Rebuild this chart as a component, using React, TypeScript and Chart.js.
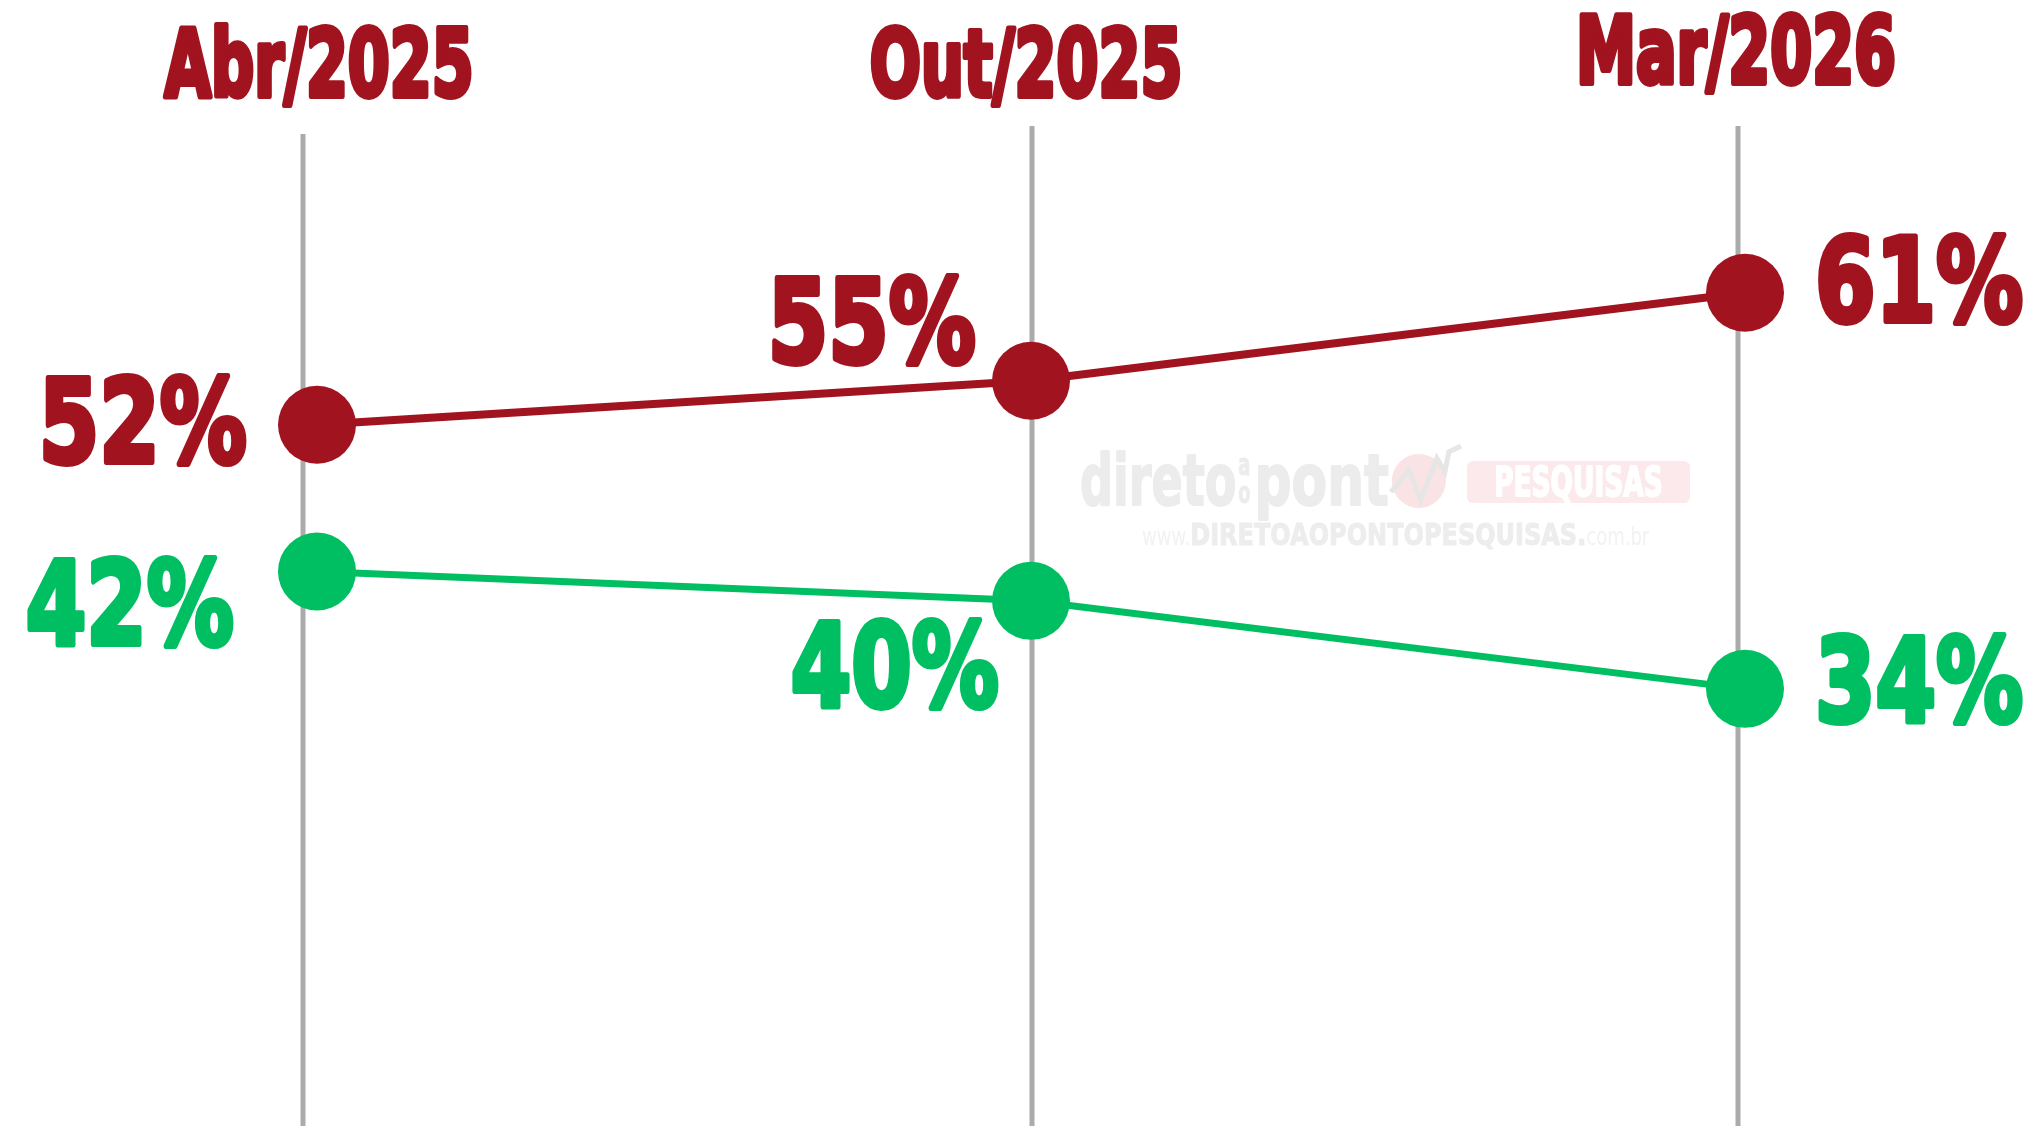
import React, { useEffect, useRef } from "react";
import { Chart, registerables } from "chart.js";

Chart.register(...registerables);

// ---- data ----
const categories = ["Abr/2025", "Out/2025", "Mar/2026"];
const seriesRedName = "Série vermelha";
const seriesRed = [52, 55, 61];
const seriesGreenName = "Série verde";
const seriesGreen = [42, 40, 34];

// ---- styles ----
const RED = "#A1131F";
const GREEN = "#00BF62";
const GRID = "#ABABAB";
const FONT = '"DejaVu Sans", sans-serif';

function drawCondensed(
  ctx: CanvasRenderingContext2D,
  text: string,
  x: number,
  y: number,
  size: number,
  sx: number,
  align: "left" | "right" | "center",
  color: string,
  stroke = 3,
  weight = "bold"
) {
  ctx.save();
  ctx.font = `${weight} ${size}px ${FONT}`;
  const w = ctx.measureText(text).width * sx;
  const left = align === "left" ? x : align === "right" ? x - w : x - w / 2;
  ctx.translate(left, y);
  ctx.scale(sx, 1);
  ctx.textAlign = "left";
  ctx.textBaseline = "alphabetic";
  ctx.fillStyle = color;
  ctx.fillText(text, 0, 0);
  if (stroke > 0) {
    ctx.strokeStyle = color;
    ctx.lineWidth = stroke;
    ctx.lineJoin = "round";
    ctx.strokeText(text, 0, 0);
  }
  ctx.restore();
  return w;
}

const guidePlugin = {
  id: "guides",
  beforeDatasetsDraw(chart: any, _a: any, opts: any) {
    const ctx: CanvasRenderingContext2D = chart.ctx;
    const xs = chart.scales.x;
    const area = chart.chartArea;
    ctx.save();
    ctx.strokeStyle = GRID;
    ctx.lineWidth = 5;
    categories.forEach((_c, i) => {
      const px = xs.getPixelForValue(i) + opts.shift[i];
      ctx.beginPath();
      ctx.moveTo(px, area.top + opts.topGap[i]);
      ctx.lineTo(px, area.bottom);
      ctx.stroke();
    });
    ctx.restore();
  },
};

const watermarkPlugin = {
  id: "watermark",
  beforeDatasetsDraw(chart: any) {
    const ctx: CanvasRenderingContext2D = chart.ctx;
    const gray = "#ECECEC";
    ctx.save();
    let x = 1080;
    const base = 505;
    x += drawCondensed(ctx, "direto", x, base, 72, 0.64, "left", gray, 2);
    drawCondensed(ctx, "a", x + 8, base - 30, 30, 0.6, "center", gray, 1);
    drawCondensed(ctx, "o", x + 8, base - 2, 30, 0.6, "center", gray, 1);
    x += 18;
    x += drawCondensed(ctx, "pont", x, base, 72, 0.72, "left", gray, 2);
    // icon
    ctx.fillStyle = "#F9E3E4";
    ctx.beginPath();
    ctx.arc(x + 30, 481, 27, 0, Math.PI * 2);
    ctx.fill();
    ctx.strokeStyle = "#E6E6E6";
    ctx.lineWidth = 5;
    ctx.beginPath();
    ctx.moveTo(x + 2, 492);
    ctx.lineTo(x + 20, 470);
    ctx.lineTo(x + 32, 500);
    ctx.lineTo(x + 48, 458);
    ctx.lineTo(x + 56, 472);
    ctx.lineTo(x + 60, 452);
    ctx.lineTo(x + 72, 446);
    ctx.stroke();
    // box
    const bx = 1467, by = 461, bw = 223, bh = 42;
    ctx.fillStyle = "#FBE9EB";
    ctx.beginPath();
    (ctx as any).roundRect(bx, by, bw, bh, 6);
    ctx.fill();
    drawCondensed(ctx, "PESQUISAS", bx + bw / 2, by + 35, 40, 0.66, "center", "#FFFFFF", 2);
    // url
    let ux = 1142;
    ux += drawCondensed(ctx, "www.", ux, 545, 24, 0.75, "left", "#F2F2F2", 0, "normal");
    ux += drawCondensed(ctx, "DIRETOAOPONTOPESQUISAS.", ux, 545, 30, 0.8, "left", "#EDEDED", 1);
    drawCondensed(ctx, "com.br", ux, 545, 24, 0.75, "left", "#F2F2F2", 0, "normal");
    ctx.restore();
  },
};

const labelPlugin = {
  id: "pctLabels",
  afterDatasetsDraw(chart: any, _args: any, opts: any) {
    const ctx: CanvasRenderingContext2D = chart.ctx;
    const xs = chart.scales.x;
    const area = chart.chartArea;
    // category labels at the top
    categories.forEach((c, i) => {
      const px = xs.getPixelForValue(i);
      drawCondensed(ctx, c, px + opts.topShift[i], area.top - opts.topLift[i], 92, 0.655, "center", RED, 6);
    });
    // value labels
    chart.data.datasets.forEach((ds: any, di: number) => {
      const meta = chart.getDatasetMeta(di);
      meta.data.forEach((pt: any, i: number) => {
        const [dx, dy, align] = ds.labelPos[i];
        drawCondensed(ctx, `${ds.data[i]}%`, pt.x + dx, pt.y + dy, 116, 0.75, align, ds.borderColor, 6);
      });
    });
  },
};

export default function App() {
  const ref = useRef<HTMLCanvasElement | null>(null);

  useEffect(() => {
    if (!ref.current) return;
    const chart = new Chart(ref.current, {
      type: "line",
      data: {
        labels: categories,
        datasets: [
          {
            label: seriesRedName,
            data: seriesRed,
            borderColor: RED,
            backgroundColor: RED,
            pointBackgroundColor: RED,
            pointBorderWidth: 0,
            pointRadius: 39,
            pointHoverRadius: 39,
            borderWidth: 8,
            tension: 0,
            clip: false,
            labelPos: [
              [-70, 37, "right"],
              [-55, -19, "right"],
              [70, 28, "left"],
            ],
          } as any,
          {
            label: seriesGreenName,
            data: seriesGreen,
            borderColor: GREEN,
            backgroundColor: GREEN,
            pointBackgroundColor: GREEN,
            pointBorderWidth: 0,
            pointRadius: 39,
            pointHoverRadius: 39,
            borderWidth: 7,
            tension: 0,
            clip: false,
            labelPos: [
              [-83, 72, "right"],
              [-32, 105, "right"],
              [70, 32, "left"],
            ],
          } as any,
        ],
      },
      options: {
        responsive: false,
        animation: false,
        events: [],
        layout: { autoPadding: false, padding: { top: 130, left: 317, right: 295, bottom: 0 } },
        plugins: {
          legend: { display: false },
          tooltip: { enabled: false },
          pctLabels: { topLift: [34, 34, 47], topShift: [2, -5, -9] },
          guides: { shift: [-14, 1, -7], topGap: [4, -4, -4] },
        } as any,
        scales: {
          x: {
            display: false,
          },
          y: { min: 4.2, max: 72.1, display: false },
        },
      },
      plugins: [guidePlugin, watermarkPlugin, labelPlugin],
    });
    return () => chart.destroy();
  }, []);

  return (
    <div style={{ position: "fixed", left: 0, top: 0, width: 2040, height: 1126, background: "#fff" }}>
      <canvas ref={ref} width={2040} height={1126} />
    </div>
  );
}
